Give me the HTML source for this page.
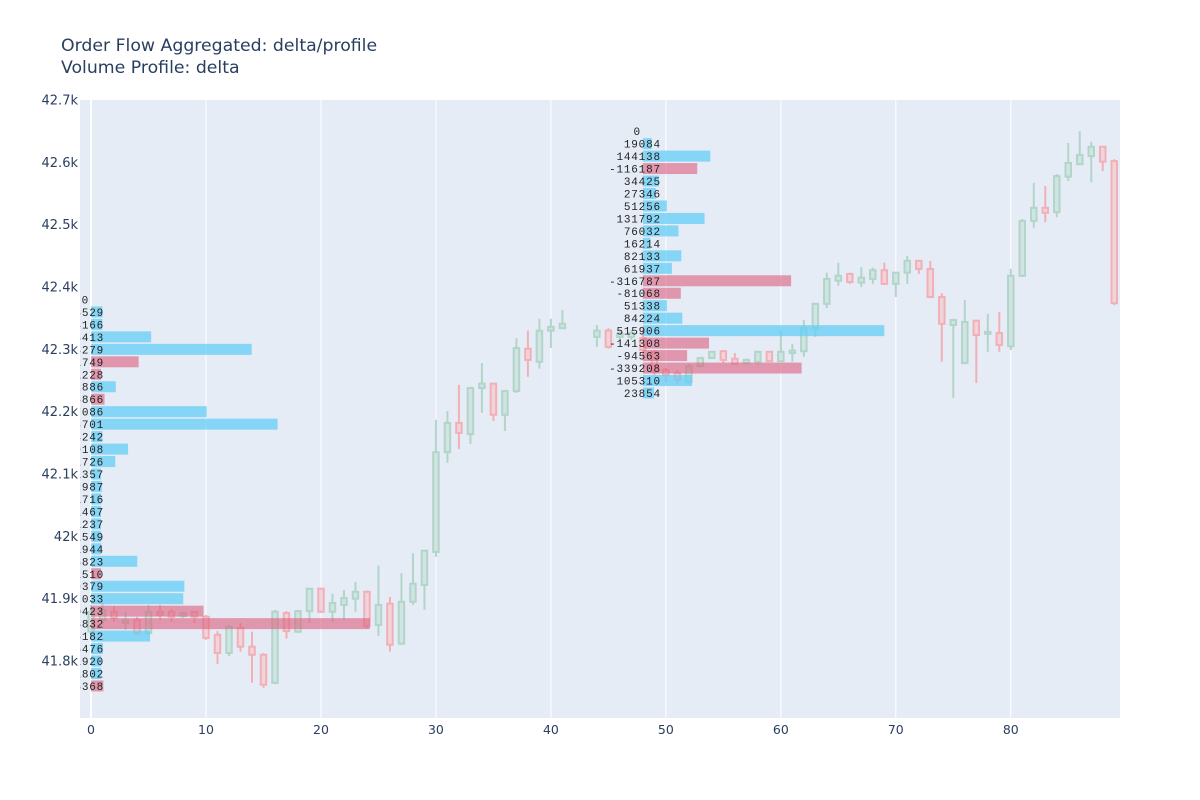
<!DOCTYPE html>
<html><head><meta charset="utf-8"><style>
html,body{margin:0;padding:0;background:#fff;}
svg{display:block;font-family:"DejaVu Sans","Liberation Sans",sans-serif;}
</style></head><body>
<svg id="chart" width="1200" height="800" viewBox="0 0 1200 800" xmlns="http://www.w3.org/2000/svg">
<defs><clipPath id="plotclip"><rect x="80" y="100" width="1040" height="618"/></clipPath></defs>
<rect x="0" y="0" width="1200" height="800" fill="#fff"/>
<rect x="80" y="100" width="1040" height="618" fill="#e5ecf6"/>
<g id="grid"></g>
<g id="candles" clip-path="url(#plotclip)"></g>
<g id="profiles" clip-path="url(#plotclip)"></g>
<g id="axes"></g>
<text x="61" y="51" font-size="17.3" fill="#2a3f5f">Order Flow Aggregated: delta/profile</text>
<text x="61" y="73" font-size="17.3" fill="#2a3f5f">Volume Profile: delta</text>
</svg>
<script>
// ---- data ----
const candleOpen = [41847,41866,41879,41861,41866,41845,41879,41879,41872,41879,41871,41842,41813,41853,41823,41810,41765,41877,41847,41880,41916,41879,41890,41900,41911,41858,41892,41828,41895,41922,41975,42135,42182,42164,42238,42245,42195,42233,42301,42280,42330,42334,null,null,42320,42330,42320,42320,42318,42296,42267,42262,42248,42273,42286,42297,42285,42278,42280,42296,42281,42294,42297,42334,42373,42410,42421,42407,42413,42427,42405,42423,42442,42429,42384,42339,42278,42346,42325,42326,42305,42418,42506,42527,42520,42577,42597,42610,42625,42602];
const candleHigh = [41890,41893,41888,41879,41871,41890,41890,41884,41879,41880,41874,41848,41858,41861,41847,41813,41882,41880,41882,41917,41917,41908,41914,41927,41913,41953,41903,41941,41973,41978,42187,42201,42243,42240,42278,42246,42235,42318,42330,42349,42349,42363,null,null,42339,42334,42330,42331,42334,42299,42270,42267,42277,42288,42297,42299,42294,42285,42297,42297,42331,42309,42347,42374,42423,42439,42423,42432,42431,42439,42424,42450,42443,42442,42390,42349,42379,42347,42357,42360,42429,42509,42567,42562,42581,42631,42650,42633,42626,42605];
const candleLow = [41834,41858,41863,41850,41842,41842,41866,41863,41869,41861,41834,41795,41808,41815,41765,41757,41763,41836,41845,41861,41877,41863,41866,41879,41853,41840,41815,41826,41890,41882,41967,42118,42140,42148,42198,42185,42169,42230,42256,42269,42302,42333,null,null,42304,42301,42315,42315,42286,42259,42246,42243,42245,42272,42285,42278,42275,42277,42275,42280,42280,42280,42288,42320,42366,42402,42405,42400,42405,42403,42384,42405,42421,42382,42280,42222,42277,42246,42296,42296,42299,42416,42495,42504,42512,42570,42596,42568,42586,42371];
const candleClose = [41879,41882,41869,41865,41845,41879,41874,41871,41877,41871,41837,41813,41855,41823,41810,41762,41879,41848,41880,41916,41879,41893,41901,41911,41856,41890,41826,41895,41924,41977,42135,42182,42166,42238,42245,42195,42233,42302,42283,42330,42336,42341,null,null,42330,42304,42325,42326,42299,42264,42259,42251,42273,42286,42296,42283,42277,42283,42296,42281,42296,42298,42334,42373,42413,42418,42408,42415,42427,42405,42423,42442,42429,42384,42341,42347,42344,42323,42328,42307,42418,42506,42527,42519,42578,42599,42612,42625,42601,42374];

const leftProfilePrices = [42380,42360,42340,42320,42300,42280,42260,42240,42220,42200,42180,42160,42140,42120,42100,42080,42060,42040,42020,42000,41980,41960,41940,41920,41900,41880,41860,41840,41820,41800,41780,41760];
const leftProfileDelta = [0,24529,24166,128413,343279,-101749,-21228,52886,-28866,247086,398701,24242,79108,51726,21357,22987,21716,21467,21237,21549,21944,98823,-21510,199379,197033,-240423,-595832,126182,25476,21920,21802,-26368];
const rightProfilePrices = [42650,42630,42610,42590,42570,42550,42530,42510,42490,42470,42450,42430,42410,42390,42370,42350,42330,42310,42290,42270,42250,42230];
const rightProfileDelta = [0,19084,144138,-116187,34425,27346,51256,131792,76032,16214,82133,61937,-316787,-81068,51338,84224,515906,-141308,-94563,-339208,105310,23854];
const profileStarts = [0,48];

const xTicks = [0,10,20,30,40,50,60,70,80];
const yTicks = [41800,41900,42000,42100,42200,42300,42400,42500,42600,42700];
const yTickLabels = ["41.8k","41.9k","42k","42.1k","42.2k","42.3k","42.4k","42.5k","42.6k","42.7k"];

// ---- axes ----
const X0=80,X1=1120,Y0=100,Y1=718;
const xMin=-0.96,xMax=89.5,yMin=41708.6,yMax=42700;
const xs=v=>X0+(v-xMin)/(xMax-xMin)*(X1-X0);
const ys=v=>Y1-(v-yMin)/(yMax-yMin)*(Y1-Y0);
const unitsPerDelta=1/24567;
const NS="http://www.w3.org/2000/svg";
function mk(tag,attrs,parent){const e=document.createElementNS(NS,tag);for(const k in attrs)e.setAttribute(k,attrs[k]);parent.appendChild(e);return e;}

const grid=document.getElementById('grid');
const axes=document.getElementById('axes');
xTicks.forEach(t=>{
  const g=mk('line',{x1:xs(t),x2:xs(t),y1:Y0,y2:Y1,stroke:'#fff','stroke-width':t===0?2:1},grid);
  
  
  const l=mk('text',{x:xs(t),y:734,'font-size':12.5,'text-anchor':'middle',fill:'#2a3f5f'},axes);
  l.textContent=String(t);
  
  
});
yTicks.forEach((t,i)=>{
  const l=mk('text',{x:78,y:ys(t)+4.5,'font-size':13,'text-anchor':'end',fill:'#2a3f5f'},axes);
  l.textContent=yTickLabels[i];
  
  
});

// ---- candles ----
const cg=document.getElementById('candles');
const bw=5.5;
candleOpen.forEach((o,i)=>{
  if(o===null)return;
  const c=candleClose[i],h=candleHigh[i],lo=candleLow[i];
  const up=c>=o;
  const stroke=up?'#b2d5c9':'#f2b0b6';
  const fill=up?'#d1e3e2':'#efd4dc';
  const x=xs(i);
  const g=mk('g',{},cg);
  
  
  mk('line',{x1:x,x2:x,y1:ys(h),y2:ys(lo),stroke:stroke,'stroke-width':2},g);
  const top=ys(Math.max(o,c)),bot=ys(Math.min(o,c));
  mk('rect',{x:x-bw/2,y:top,width:bw,height:Math.max(bot-top,1),fill:fill,stroke:stroke,'stroke-width':2},g);
});

// ---- profiles ----
const pg=document.getElementById('profiles');
function drawProfile(prices,deltas,start,name){
  prices.forEach((p,i)=>{
    const d=deltas[i];
    const y=ys(p);
    const x=xs(start);
    const w=Math.abs(d)*unitsPerDelta*(xs(1)-xs(0));
    if(w>0){
      const r=mk('rect',{x:x,y:y-5.5,width:w,height:11,fill:d>=0?'rgba(100,205,245,0.75)':'rgba(220,95,125,0.6)'},pg);
      
      
    }
    const t=mk('text',{x:d===0?x-2:x+13+(start>0?5:0),y:y+4,'font-size':11,'text-anchor':'end',fill:'#222','font-family':'Liberation Mono, monospace','letter-spacing':'0.8'},pg);
    t.textContent=String(d);
    
    
  });
}
drawProfile(leftProfilePrices,leftProfileDelta,profileStarts[0],'left-profile');
drawProfile(rightProfilePrices,rightProfileDelta,profileStarts[1],'right-profile');
</script>
</body></html>
